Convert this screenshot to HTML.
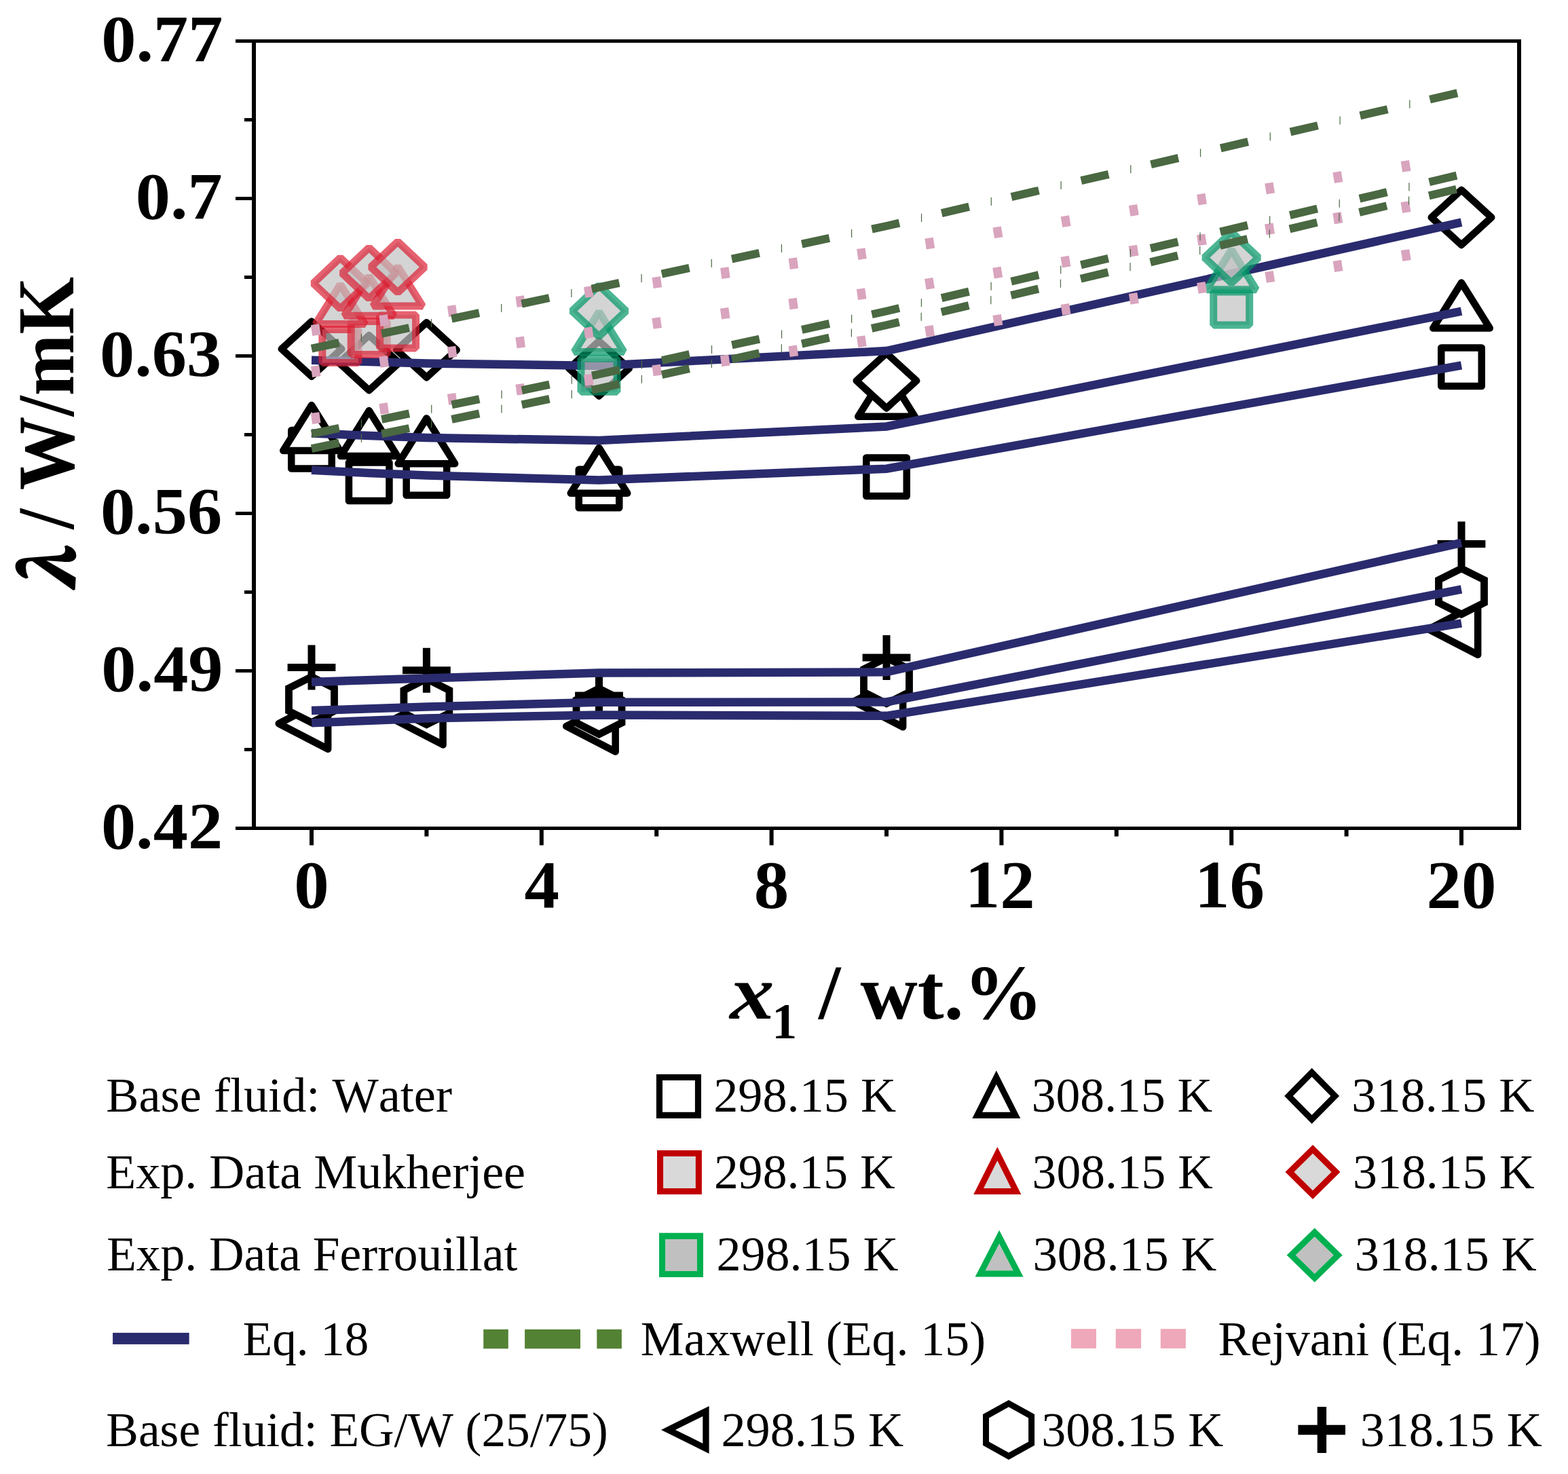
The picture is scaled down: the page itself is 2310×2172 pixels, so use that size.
<!DOCTYPE html><html><head><meta charset="utf-8"><title>Thermal conductivity vs concentration</title><style>html,body{margin:0;padding:0;background:#fff;}svg{display:block;}text{font-family:"Liberation Serif","Times New Roman",serif;font-kerning:none;fill:#000;}</style></head><body>
<svg width="2310" height="2172" viewBox="0 0 2310 2172">
<rect width="2310" height="2172" fill="#fff"/>
<path d="M429.25,634.05H488.75V690.55H429.25Z" fill="#fff" stroke="#000" stroke-width="10.5" stroke-linejoin="round"/>
<path d="M513.95,681.55H573.45V738.05H513.95Z" fill="#fff" stroke="#000" stroke-width="10.5" stroke-linejoin="round"/>
<path d="M598.65,673.25H658.15V729.75H598.65Z" fill="#fff" stroke="#000" stroke-width="10.5" stroke-linejoin="round"/>
<path d="M852.75,691.75H912.25V748.25H852.75Z" fill="#fff" stroke="#000" stroke-width="10.5" stroke-linejoin="round"/>
<path d="M1276.25,674.55H1335.75V731.05H1276.25Z" fill="#fff" stroke="#000" stroke-width="10.5" stroke-linejoin="round"/>
<path d="M2123.25,512.55H2182.75V569.05H2123.25Z" fill="#fff" stroke="#000" stroke-width="10.5" stroke-linejoin="round"/>
<path d="M459,597.1L500.75,664L417.25,664Z" fill="#fff" stroke="#000" stroke-width="10.5" stroke-linejoin="round"/>
<path d="M543.7,605.1L585.45,672L501.95,672Z" fill="#fff" stroke="#000" stroke-width="10.5" stroke-linejoin="round"/>
<path d="M628.4,616.4L670.15,683.3L586.65,683.3Z" fill="#fff" stroke="#000" stroke-width="10.5" stroke-linejoin="round"/>
<path d="M882.5,659.9L924.25,726.8L840.75,726.8Z" fill="#fff" stroke="#000" stroke-width="10.5" stroke-linejoin="round"/>
<path d="M1306,546.9L1347.75,613.8L1264.25,613.8Z" fill="#fff" stroke="#000" stroke-width="10.5" stroke-linejoin="round"/>
<path d="M2153,416.6L2194.75,483.5L2111.25,483.5Z" fill="#fff" stroke="#000" stroke-width="10.5" stroke-linejoin="round"/>
<path d="M459,473.7L503.25,514.2L459,554.7L414.75,514.2Z" fill="#fff" stroke="#000" stroke-width="10.5" stroke-linejoin="round"/>
<path d="M543.7,494.1L587.95,534.6L543.7,575.1L499.45,534.6Z" fill="#fff" stroke="#000" stroke-width="10.5" stroke-linejoin="round"/>
<path d="M628.4,475.2L672.65,515.7L628.4,556.2L584.15,515.7Z" fill="#fff" stroke="#000" stroke-width="10.5" stroke-linejoin="round"/>
<path d="M882.5,502.5L926.75,543L882.5,583.5L838.25,543Z" fill="#fff" stroke="#000" stroke-width="10.5" stroke-linejoin="round"/>
<path d="M1306,520.5L1350.25,561L1306,601.5L1261.75,561Z" fill="#fff" stroke="#000" stroke-width="10.5" stroke-linejoin="round"/>
<path d="M2153,279.9L2197.25,320.4L2153,360.9L2108.75,320.4Z" fill="#fff" stroke="#000" stroke-width="10.5" stroke-linejoin="round"/>
<path d="M410.67,1066.25L483.17,1028.75L483.17,1103.75Z" fill="#fff" stroke="#000" stroke-width="10.5" stroke-linejoin="round"/>
<path d="M580.07,1059.95L652.57,1022.45L652.57,1097.45Z" fill="#fff" stroke="#000" stroke-width="10.5" stroke-linejoin="round"/>
<path d="M834.17,1070.05L906.67,1032.55L906.67,1107.55Z" fill="#fff" stroke="#000" stroke-width="10.5" stroke-linejoin="round"/>
<path d="M1257.67,1033.75L1330.17,996.25L1330.17,1071.25Z" fill="#fff" stroke="#000" stroke-width="10.5" stroke-linejoin="round"/>
<path d="M2104.67,927.25L2177.17,889.75L2177.17,964.75Z" fill="#fff" stroke="#000" stroke-width="10.5" stroke-linejoin="round"/>
<path d="M459,997.2L492.5,1014.05L492.5,1047.75L459,1064.6L425.5,1047.75L425.5,1014.05Z" fill="#fff" stroke="#000" stroke-width="10.8" stroke-linejoin="miter"/>
<path d="M628.4,1000.3L661.9,1017.15L661.9,1050.85L628.4,1067.7L594.9,1050.85L594.9,1017.15Z" fill="#fff" stroke="#000" stroke-width="10.8" stroke-linejoin="miter"/>
<path d="M882.5,1014.6L916,1031.45L916,1065.15L882.5,1082L849,1065.15L849,1031.45Z" fill="#fff" stroke="#000" stroke-width="10.8" stroke-linejoin="miter"/>
<path d="M1306,969.3L1339.5,986.15L1339.5,1019.85L1306,1036.7L1272.5,1019.85L1272.5,986.15Z" fill="#fff" stroke="#000" stroke-width="10.8" stroke-linejoin="miter"/>
<path d="M2153,837.7L2186.5,854.55L2186.5,888.25L2153,905.1L2119.5,888.25L2119.5,854.55Z" fill="#fff" stroke="#000" stroke-width="10.8" stroke-linejoin="miter"/>
<path d="M423.6,983.6H494.4M459,950.6V1016.6M593,987.7H663.8M628.4,954.7V1020.7M847.1,1025H917.9M882.5,992V1058M1270.6,969H1341.4M1306,936V1002M2117.6,801.4H2188.4M2153,768.4V834.4" fill="none" stroke="#000" stroke-width="11"/>
<path d="M459,530.7L543.7,533L628.4,535.5L882.5,539L1306,517.1L2153,327.6M459,638.5L543.7,642L628.4,645L882.5,649L1306,628.5L2153,458.6M459,692.7L543.7,697L628.4,700.5L882.5,707.5L1306,690.7L2153,538.3M459,1004.9L628.4,999.5L882.5,991.6L1306,990.3L2153,799.8M459,1047.1L628.4,1041.5L882.5,1034.8L1306,1034.4L2153,868.3M459,1065.3L628.4,1058.5L882.5,1053.5L1306,1054.8L2153,918.3" fill="none" stroke="#2a2b6e" stroke-width="12.5" stroke-linejoin="miter"/>
<path d="M474.85,485.5H527.85V534.5H474.85Z" fill="rgba(194,194,194,0.7)" stroke="rgba(219,31,51,0.7)" stroke-width="11" stroke-linejoin="bevel"/>
<path d="M517.2,473.5H570.2V522.5H517.2Z" fill="rgba(194,194,194,0.7)" stroke="rgba(219,31,51,0.7)" stroke-width="11" stroke-linejoin="bevel"/>
<path d="M559.55,464H612.55V513H559.55Z" fill="rgba(194,194,194,0.7)" stroke="rgba(219,31,51,0.7)" stroke-width="11" stroke-linejoin="bevel"/>
<path d="M501.35,419.1L537.85,477.6L464.85,477.6Z" fill="rgba(194,194,194,0.7)" stroke="rgba(219,31,51,0.7)" stroke-width="11" stroke-linejoin="bevel"/>
<path d="M543.7,406.8L580.2,465.3L507.2,465.3Z" fill="rgba(194,194,194,0.7)" stroke="rgba(219,31,51,0.7)" stroke-width="11" stroke-linejoin="bevel"/>
<path d="M586.05,392.6L622.55,451.1L549.55,451.1Z" fill="rgba(194,194,194,0.7)" stroke="rgba(219,31,51,0.7)" stroke-width="11" stroke-linejoin="bevel"/>
<path d="M501.35,379.8L541.15,417.4L501.35,455L461.55,417.4Z" fill="rgba(194,194,194,0.7)" stroke="rgba(219,31,51,0.7)" stroke-width="11" stroke-linejoin="bevel"/>
<path d="M543.7,364.9L583.5,402.5L543.7,440.1L503.9,402.5Z" fill="rgba(194,194,194,0.7)" stroke="rgba(219,31,51,0.7)" stroke-width="11" stroke-linejoin="bevel"/>
<path d="M586.05,355.9L625.85,393.5L586.05,431.1L546.25,393.5Z" fill="rgba(194,194,194,0.7)" stroke="rgba(219,31,51,0.7)" stroke-width="11" stroke-linejoin="bevel"/>
<path d="M856,528.3H909V577.3H856Z" fill="rgba(194,194,194,0.7)" stroke="rgba(0,149,101,0.7)" stroke-width="11" stroke-linejoin="bevel"/>
<path d="M1787.7,430.1H1840.7V479.1H1787.7Z" fill="rgba(194,194,194,0.7)" stroke="rgba(0,149,101,0.7)" stroke-width="11" stroke-linejoin="bevel"/>
<path d="M882.5,459.47L919,518.47L846,518.47Z" fill="rgba(194,194,194,0.7)" stroke="rgba(0,149,101,0.7)" stroke-width="11" stroke-linejoin="bevel"/>
<path d="M1814.2,367.87L1850.7,426.87L1777.7,426.87Z" fill="rgba(194,194,194,0.7)" stroke="rgba(0,149,101,0.7)" stroke-width="11" stroke-linejoin="bevel"/>
<path d="M882.5,420.6L922.3,458.2L882.5,495.8L842.7,458.2Z" fill="rgba(194,194,194,0.7)" stroke="rgba(0,149,101,0.7)" stroke-width="11" stroke-linejoin="bevel"/>
<path d="M1814.2,341.9L1854,379.5L1814.2,417.1L1774.4,379.5Z" fill="rgba(194,194,194,0.7)" stroke="rgba(0,149,101,0.7)" stroke-width="11" stroke-linejoin="bevel"/>
<path d="M459,487L1306,369L2153,231.5M459,548L1306,428L2153,292M459,617L1306,498L2153,363" fill="none" stroke="#d9a4be" stroke-width="16" stroke-dasharray="12.5 89"/>
<path d="M459,513.7L1306,333L2153,135.7M459,639.4L882.5,551.4L1306,458.5L2153,257M459,661.1L882.5,572.5L1306,479L2153,277" fill="none" stroke="#4a6842" stroke-width="12" stroke-dasharray="41.5 64"/>
<path d="M531.75,492.05h1.2v12h-1.2ZM634.93,470.04h1.2v12h-1.2ZM738.11,448.03h1.2v12h-1.2ZM841.28,426.02h1.2v12h-1.2ZM944.46,404h1.2v12h-1.2ZM1047.64,381.99h1.2v12h-1.2ZM1150.82,359.98h1.2v12h-1.2ZM1254,337.97h1.2v12h-1.2ZM1356.96,314.99h1.2v12h-1.2ZM1459.71,291.06h1.2v12h-1.2ZM1562.46,267.12h1.2v12h-1.2ZM1665.21,243.19h1.2v12h-1.2ZM1767.96,219.25h1.2v12h-1.2ZM1870.7,195.32h1.2v12h-1.2ZM1973.45,171.38h1.2v12h-1.2ZM2076.2,147.45h1.2v12h-1.2ZM531.83,618.14h1.2v12h-1.2ZM635.13,596.68h1.2v12h-1.2ZM738.42,575.21h1.2v12h-1.2ZM841.71,553.75h1.2v12h-1.2ZM944.86,531.59h1.2v12h-1.2ZM1047.91,508.98h1.2v12h-1.2ZM1150.96,486.38h1.2v12h-1.2ZM1254.01,463.77h1.2v12h-1.2ZM1356.85,440.26h1.2v12h-1.2ZM1459.48,415.84h1.2v12h-1.2ZM1562.12,391.43h1.2v12h-1.2ZM1664.76,367.01h1.2v12h-1.2ZM1767.39,342.59h1.2v12h-1.2ZM1870.03,318.18h1.2v12h-1.2ZM1972.66,293.76h1.2v12h-1.2ZM2075.3,269.34h1.2v12h-1.2ZM531.81,639.74h1.2v12h-1.2ZM635.08,618.14h1.2v12h-1.2ZM738.34,596.53h1.2v12h-1.2ZM841.6,574.93h1.2v12h-1.2ZM944.72,552.63h1.2v12h-1.2ZM1047.74,529.89h1.2v12h-1.2ZM1150.76,507.14h1.2v12h-1.2ZM1253.78,484.4h1.2v12h-1.2ZM1356.6,460.79h1.2v12h-1.2ZM1459.22,436.32h1.2v12h-1.2ZM1561.84,411.84h1.2v12h-1.2ZM1664.46,387.37h1.2v12h-1.2ZM1767.08,362.89h1.2v12h-1.2ZM1869.71,338.42h1.2v12h-1.2ZM1972.33,313.95h1.2v12h-1.2ZM2074.95,289.47h1.2v12h-1.2Z" fill="#4a6842"/>
<path d="M371,58H2241V63H371ZM371,1218H2241V1223H371ZM371,58H377V1223H371ZM2235,58H2241V1223H2235ZM347,58H371V63H347ZM347,290H371V295H347ZM347,522H371V527H347ZM347,754H371V759H347ZM347,986H371V991H347ZM347,1218H371V1223H347ZM360,174H371V179H360ZM360,406H371V411H360ZM360,638H371V643H360ZM360,870H371V875H360ZM360,1102H371V1107H360ZM456,1223H462V1245.5H456ZM625.4,1223H631.4V1232.5H625.4ZM794.8,1223H800.8V1245.5H794.8ZM964.2,1223H970.2V1232.5H964.2ZM1133.6,1223H1139.6V1245.5H1133.6ZM1303,1223H1309V1232.5H1303ZM1472.4,1223H1478.4V1245.5H1472.4ZM1641.8,1223H1647.8V1232.5H1641.8ZM1811.2,1223H1817.2V1245.5H1811.2ZM1980.6,1223H1986.6V1232.5H1980.6ZM2150,1223H2156V1245.5H2150Z" fill="#000"/>
<text transform="translate(149.29,89.7) scale(1.0450,1)" font-size="98" font-weight="bold" font-style="normal">0.77</text>
<text transform="translate(199.8,321.7) scale(1.0450,1)" font-size="98" font-weight="bold" font-style="normal">0.7</text>
<text transform="translate(147.04,553.7) scale(1.0450,1)" font-size="98" font-weight="bold" font-style="normal">0.63</text>
<text transform="translate(147.9,785.7) scale(1.0450,1)" font-size="98" font-weight="bold" font-style="normal">0.56</text>
<text transform="translate(149.34,1017.7) scale(1.0450,1)" font-size="98" font-weight="bold" font-style="normal">0.49</text>
<text transform="translate(148.88,1249.7) scale(1.0450,1)" font-size="98" font-weight="bold" font-style="normal">0.42</text>
<text transform="translate(433.25,1337) scale(1.0300,1)" font-size="100" font-weight="bold" font-style="normal">0</text>
<text transform="translate(772.56,1337) scale(1.0300,1)" font-size="100" font-weight="bold" font-style="normal">4</text>
<text transform="translate(1110.85,1337) scale(1.0300,1)" font-size="100" font-weight="bold" font-style="normal">8</text>
<text transform="translate(1421.84,1337) scale(1.0300,1)" font-size="100" font-weight="bold" font-style="normal">12</text>
<text transform="translate(1760.12,1337) scale(1.0300,1)" font-size="100" font-weight="bold" font-style="normal">16</text>
<text transform="translate(2101.5,1337) scale(1.0300,1)" font-size="100" font-weight="bold" font-style="normal">20</text>
<text transform="translate(1075.14,1500.5) scale(1.1375,1)" font-size="115" font-weight="bold" font-style="italic">x</text>
<text x="1137.3" y="1529.5" font-size="74" font-weight="bold" font-style="normal">1</text>
<text transform="translate(1205.91,1500.5) scale(1.0146,1)" font-size="115" font-weight="bold" font-style="normal">/ wt.%</text>
<text transform="translate(156.29,1638.3) scale(1.0040,1)" font-size="72" font-weight="normal" font-style="normal">Base fluid: Water</text>
<text transform="translate(1051.19,1638.3) scale(1.0038,1)" font-size="72" font-weight="normal" font-style="normal">298.15 K</text>
<text transform="translate(1519.71,1638.3) scale(0.9951,1)" font-size="72" font-weight="normal" font-style="normal">308.15 K</text>
<text transform="translate(1991.18,1638.3) scale(1.0057,1)" font-size="72" font-weight="normal" font-style="normal">318.15 K</text>
<text x="156.3" y="1751" font-size="72" font-weight="normal" font-style="normal">Exp. Data Mukherjee</text>
<text transform="translate(1052.01,1751) scale(0.9951,1)" font-size="72" font-weight="normal" font-style="normal">298.15 K</text>
<text transform="translate(1520.62,1751) scale(0.9936,1)" font-size="72" font-weight="normal" font-style="normal">308.15 K</text>
<text transform="translate(1993,1751) scale(0.9989,1)" font-size="72" font-weight="normal" font-style="normal">318.15 K</text>
<text transform="translate(157.22,1872.3) scale(0.9924,1)" font-size="72" font-weight="normal" font-style="normal">Exp. Data Ferrouillat</text>
<text x="1055.5" y="1872.3" font-size="72" font-weight="normal" font-style="normal">298.15 K</text>
<text transform="translate(1521.47,1872.3) scale(1.0110,1)" font-size="72" font-weight="normal" font-style="normal">308.15 K</text>
<text x="1995.7" y="1872.3" font-size="72" font-weight="normal" font-style="normal">318.15 K</text>
<text transform="translate(357.72,1996.7) scale(0.9880,1)" font-size="72" font-weight="normal" font-style="normal">Eq. 18</text>
<text transform="translate(943.81,1996.7) scale(0.9970,1)" font-size="72" font-weight="normal" font-style="normal">Maxwell (Eq. 15)</text>
<text transform="translate(1794.61,1996.7) scale(0.9941,1)" font-size="72" font-weight="normal" font-style="normal">Rejvani (Eq. 17)</text>
<text transform="translate(156.32,2131.3) scale(0.9915,1)" font-size="72" font-weight="normal" font-style="normal">Base fluid: EG/W (25/75)</text>
<text transform="translate(1062.49,2131.3) scale(1.0030,1)" font-size="72" font-weight="normal" font-style="normal">298.15 K</text>
<text x="1534.3" y="2131.3" font-size="72" font-weight="normal" font-style="normal">308.15 K</text>
<text x="2003.8" y="2131.3" font-size="72" font-weight="normal" font-style="normal">318.15 K</text>
<text transform="translate(108.5,868) scale(1.07,0.9844) rotate(-90)" x="-2" y="0" font-size="96" font-weight="900" font-style="italic" stroke="#000" stroke-width="3" style="font-family:'Noto Serif CJK SC',serif">λ</text>
<text transform="translate(108,780.7) scale(1.07,0.9894) rotate(-90)" x="1" y="0" font-size="110" font-weight="bold">/ W/mK</text>
<path d="M966.9,1582.9L1033,1582.9L1033,1647.9L966.9,1647.9ZM976,1638.8L1023.9,1638.8L1023.9,1592L976,1592Z" fill="#000" fill-rule="evenodd"/>
<path d="M1467.8,1577.5L1503.3,1647.9L1432.3,1647.9ZM1447.08,1638.8L1488.52,1638.8L1467.8,1597.71Z" fill="#000" fill-rule="evenodd"/>
<path d="M1932.6,1573.7L1973.1,1614.9L1932.6,1656.1L1892.1,1614.9ZM1904.86,1614.9L1932.6,1643.12L1960.34,1614.9L1932.6,1586.68Z" fill="#000" fill-rule="evenodd"/>
<path d="M977.1,1704.1L1024.8,1704.1L1024.8,1750.9L977.1,1750.9Z" fill="#d9d9d9"/><path d="M968,1695L1033.9,1695L1033.9,1760L968,1760ZM977.1,1750.9L1024.8,1750.9L1024.8,1704.1L977.1,1704.1Z" fill="#c00000" fill-rule="evenodd"/>
<path d="M1469.35,1710.35L1489.68,1751L1449.02,1751Z" fill="#d9d9d9"/><path d="M1469.35,1690L1504.4,1760.1L1434.3,1760.1ZM1449.02,1751L1489.68,1751L1469.35,1710.35Z" fill="#c00000" fill-rule="evenodd"/>
<path d="M1934,1699.7L1961.56,1726.95L1934,1754.2L1906.44,1726.95Z" fill="#d9d9d9"/><path d="M1934,1686.9L1974.5,1726.95L1934,1767L1893.5,1726.95ZM1906.44,1726.95L1934,1754.2L1961.56,1726.95L1934,1699.7Z" fill="#c00000" fill-rule="evenodd"/>
<path d="M980.1,1825.9L1026.9,1825.9L1026.9,1872.9L980.1,1872.9Z" fill="#c0c0c0"/><path d="M971,1816.8L1036,1816.8L1036,1882L971,1882ZM980.1,1872.9L1026.9,1872.9L1026.9,1825.9L980.1,1825.9Z" fill="#00b050" fill-rule="evenodd"/>
<path d="M1472.1,1832.52L1492.65,1872.3L1451.55,1872.3Z" fill="#c0c0c0"/><path d="M1472.1,1812.7L1507.6,1881.4L1436.6,1881.4ZM1451.55,1872.3L1492.65,1872.3L1472.1,1832.52Z" fill="#00b050" fill-rule="evenodd"/>
<path d="M1936.7,1822.22L1964.68,1849.55L1936.7,1876.88L1908.72,1849.55Z" fill="#c0c0c0"/><path d="M1936.7,1809.5L1977.7,1849.55L1936.7,1889.6L1895.7,1849.55ZM1908.72,1849.55L1936.7,1876.88L1964.68,1849.55L1936.7,1822.22Z" fill="#00b050" fill-rule="evenodd"/>
<rect x="166.1" y="1963.9" width="112.6" height="17" fill="#2a2b6e"/>
<rect x="712.2" y="1958.9" width="36.6" height="28.4" fill="#548235"/>
<rect x="773.1" y="1958.9" width="81.9" height="28.4" fill="#548235"/>
<rect x="879.3" y="1958.9" width="36.6" height="28.4" fill="#548235"/>
<rect x="1577.9" y="1958.2" width="37.1" height="28.7" fill="#efa8b9"/>
<rect x="1643.7" y="1958.2" width="37.4" height="28.7" fill="#efa8b9"/>
<rect x="1709.8" y="1958.2" width="37.1" height="28.7" fill="#efa8b9"/>
<path d="M974,2106.9L1044.6,2071.9L1044.6,2141.9ZM1035.3,2126.91L1035.3,2086.89L994.94,2106.9Z" fill="#000" fill-rule="evenodd"/>
<path d="M1486,2063L1524.1,2084.1L1524.1,2129.7L1486,2150.9L1448,2129.7L1448,2084.1ZM1457,2089.4L1457,2124.42L1486.01,2140.6L1515.1,2124.41L1515.1,2089.4L1486.01,2073.29Z" fill="#000" fill-rule="evenodd"/>
<path d="M1940.7,2072.9H1954.1V2141H1940.7ZM1912.4,2099.7H1982V2114.2H1912.4Z" fill="#000"/>
</svg></body></html>
